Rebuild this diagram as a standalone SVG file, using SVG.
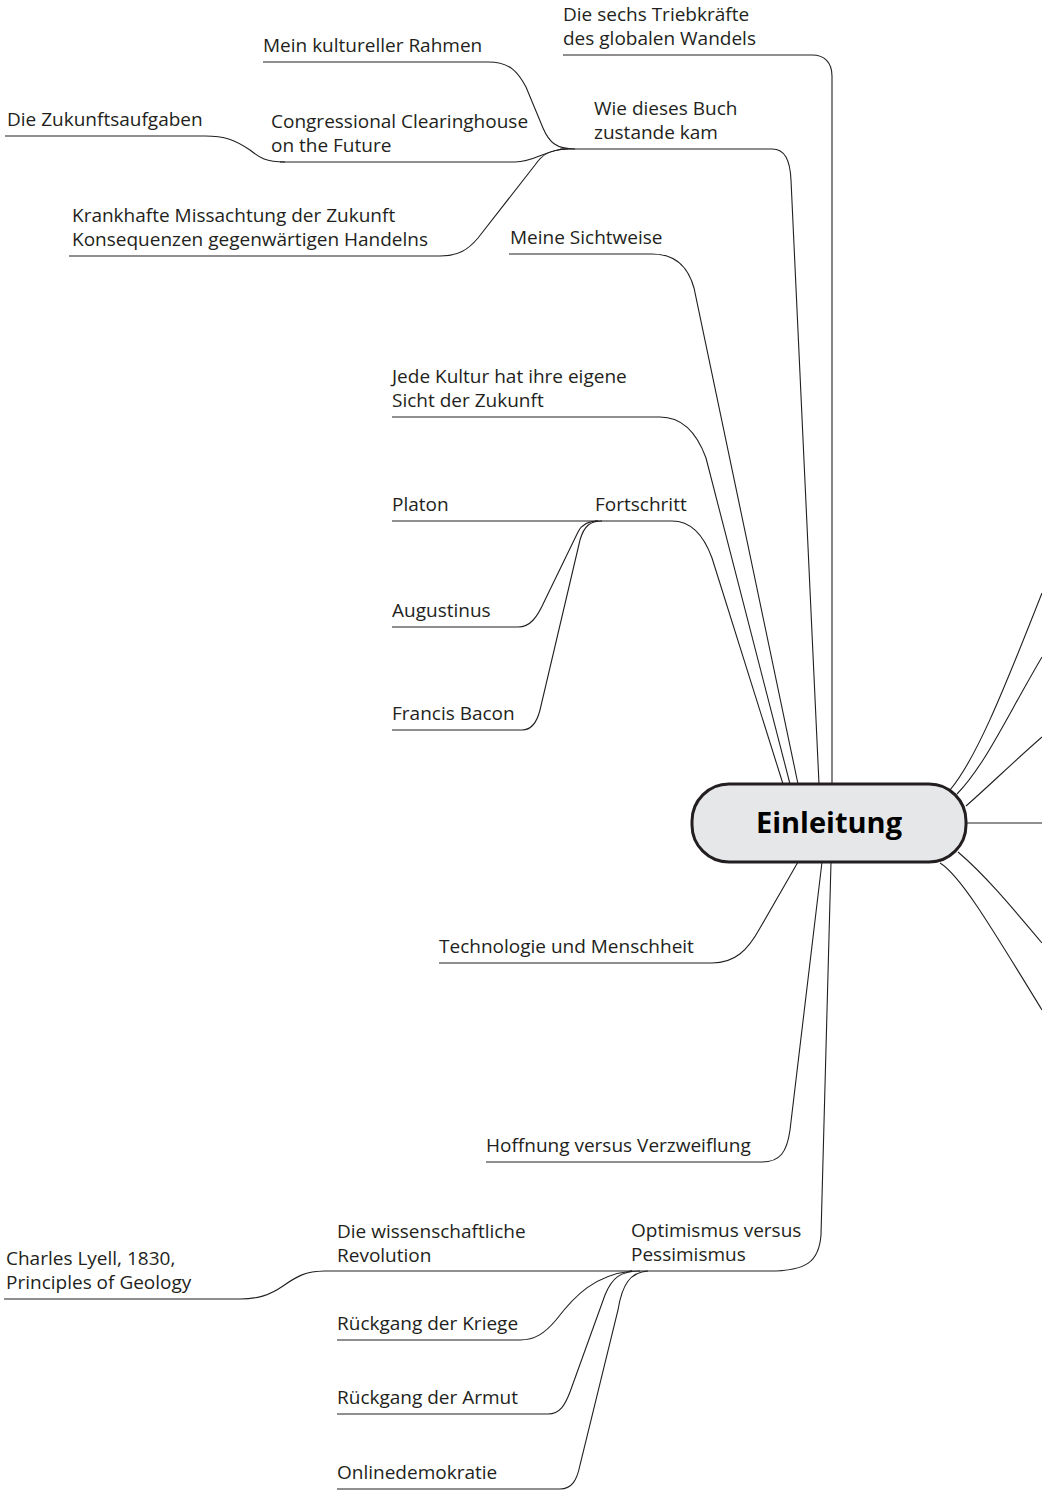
<svg xmlns="http://www.w3.org/2000/svg" width="1042" height="1491" viewBox="0 0 1042 1491">
<style>
text{font-family:"Open Sans","Noto Sans","Liberation Sans",sans-serif;font-size:19px;fill:#231f20}
.u,.c{fill:none;stroke:#231f20;stroke-width:1.1}
.root rect{fill:#e6e7e8;stroke:#231f20;stroke-width:3}
.root text{font-size:29px;font-weight:700;fill:#000}
</style>
<rect width="1042" height="1491" fill="#fff"/>
<g id="connectors">
<path class="c" d="M812 55 C825 55 832 63 832 76 L832 784"/>
<path class="c" d="M772 149 C785 149 790 160 791 180 L819 784"/>
<path class="c" d="M652 254 C675 254 688 266 694 288 L798 784"/>
<path class="c" d="M660 417 C684 417 698 436 706 458 L790 784"/>
<path class="c" d="M672 521 C692 521 704 536 712 558 L783 784"/>
<path class="c" d="M712 963 C735 963 748 950 760 928 L798 862"/>
<path class="c" d="M762 1162 C780 1162 787 1152 790 1130 L822 862"/>
<path class="c" d="M770 1271 C806 1271 819 1262 821 1235 L831 862"/>
<path class="c" d="M950 790 C975 760 1000 700 1042 593"/>
<path class="c" d="M957 794 C985 765 1005 720 1042 657"/>
<path class="c" d="M966 806 C990 785 1010 765 1042 737"/>
<path class="c" d="M967 823 L1042 823"/>
<path class="c" d="M958 852 C985 875 1010 905 1042 943"/>
<path class="c" d="M940 863 C960 875 990 925 1042 1010"/>
<path class="c" d="M488 62 C510 62 518 72 526 87 L543 128 C549 142 556 149 575 149"/>
<path class="c" d="M515 162 C535 162 545 150 565 149"/>
<path class="c" d="M440 256 C458 256 468 250 478 238 L535 165 C542 155 548 150 568 149"/>
<path class="c" d="M205 136 C225 136 235 140 250 150 C260 158 266 162 285 162"/>
<path class="c" d="M518 627 C530 627 537 618 545 600 L578 532 C582 524 588 521 598 521"/>
<path class="c" d="M522 730 C532 730 537 722 540 710 L580 540 C584 526 590 521 602 521"/>
<path class="c" d="M240 1299 C258 1299 270 1295 283 1286 C296 1277 305 1271 325 1271"/>
<path class="c" d="M520 1340 C535 1340 545 1333 556 1320 C575 1295 595 1275 632 1271"/>
<path class="c" d="M548 1414 C560 1414 565 1405 570 1392 L605 1295 C612 1278 620 1271 640 1271"/>
<path class="c" d="M560 1489 C572 1489 577 1480 580 1465 L618 1310 C622 1285 630 1272 648 1271"/>
</g>
<g id="root" class="root">
<rect x="692" y="784" width="274" height="78" rx="37"/>
<text x="829" y="833" text-anchor="middle">Einleitung</text>
</g>
<g id="n-triebkraefte"><text x="563" y="21">Die sechs Triebkräfte</text><text x="563" y="45">des globalen Wandels</text><path class="u" d="M563 55 H812"/></g>
<g id="n-buch"><text x="594" y="115">Wie dieses Buch</text><text x="594" y="139">zustande kam</text><path class="u" d="M560 149 H772"/></g>
<g id="n-rahmen"><text x="263" y="52">Mein kultureller Rahmen</text><path class="u" d="M263 62 H488"/></g>
<g id="n-congress"><text x="271" y="128">Congressional Clearinghouse</text><text x="271" y="152">on the Future</text><path class="u" d="M280 162 H515"/></g>
<g id="n-zukunftsaufgaben"><text x="7" y="126">Die Zukunftsaufgaben</text><path class="u" d="M5 136 H205"/></g>
<g id="n-krankhafte"><text x="72" y="222">Krankhafte Missachtung der Zukunft</text><text x="72" y="246">Konsequenzen gegenwärtigen Handelns</text><path class="u" d="M69 256 H440"/></g>
<g id="n-sichtweise"><text x="510" y="244">Meine Sichtweise</text><path class="u" d="M509 254 H652"/></g>
<g id="n-kultur"><text x="392" y="383">Jede Kultur hat ihre eigene</text><text x="392" y="407">Sicht der Zukunft</text><path class="u" d="M392 417 H660"/></g>
<g id="n-fortschritt"><text x="595" y="511">Fortschritt</text><path class="u" d="M595 521 H672"/></g>
<g id="n-platon"><text x="392" y="511">Platon</text><path class="u" d="M392 521 H598"/></g>
<g id="n-augustinus"><text x="392" y="617">Augustinus</text><path class="u" d="M392 627 H518"/></g>
<g id="n-bacon"><text x="392" y="720">Francis Bacon</text><path class="u" d="M392 730 H522"/></g>
<g id="n-technologie"><text x="439" y="953">Technologie und Menschheit</text><path class="u" d="M439 963 H712"/></g>
<g id="n-hoffnung"><text x="486" y="1152">Hoffnung versus Verzweiflung</text><path class="u" d="M486 1162 H762"/></g>
<g id="n-optimismus"><text x="631" y="1237">Optimismus versus</text><text x="631" y="1261">Pessimismus</text><path class="u" d="M630 1271 H770"/></g>
<g id="n-revolution"><text x="337" y="1238">Die wissenschaftliche</text><text x="337" y="1262">Revolution</text><path class="u" d="M325 1271 H632"/></g>
<g id="n-lyell"><text x="6" y="1265">Charles Lyell, 1830,</text><text x="6" y="1289">Principles of Geology</text><path class="u" d="M4 1299 H240"/></g>
<g id="n-kriege"><text x="337" y="1330">Rückgang der Kriege</text><path class="u" d="M337 1340 H520"/></g>
<g id="n-armut"><text x="337" y="1404">Rückgang der Armut</text><path class="u" d="M337 1414 H548"/></g>
<g id="n-online"><text x="337" y="1479">Onlinedemokratie</text><path class="u" d="M337 1489 H560"/></g>
</svg>
